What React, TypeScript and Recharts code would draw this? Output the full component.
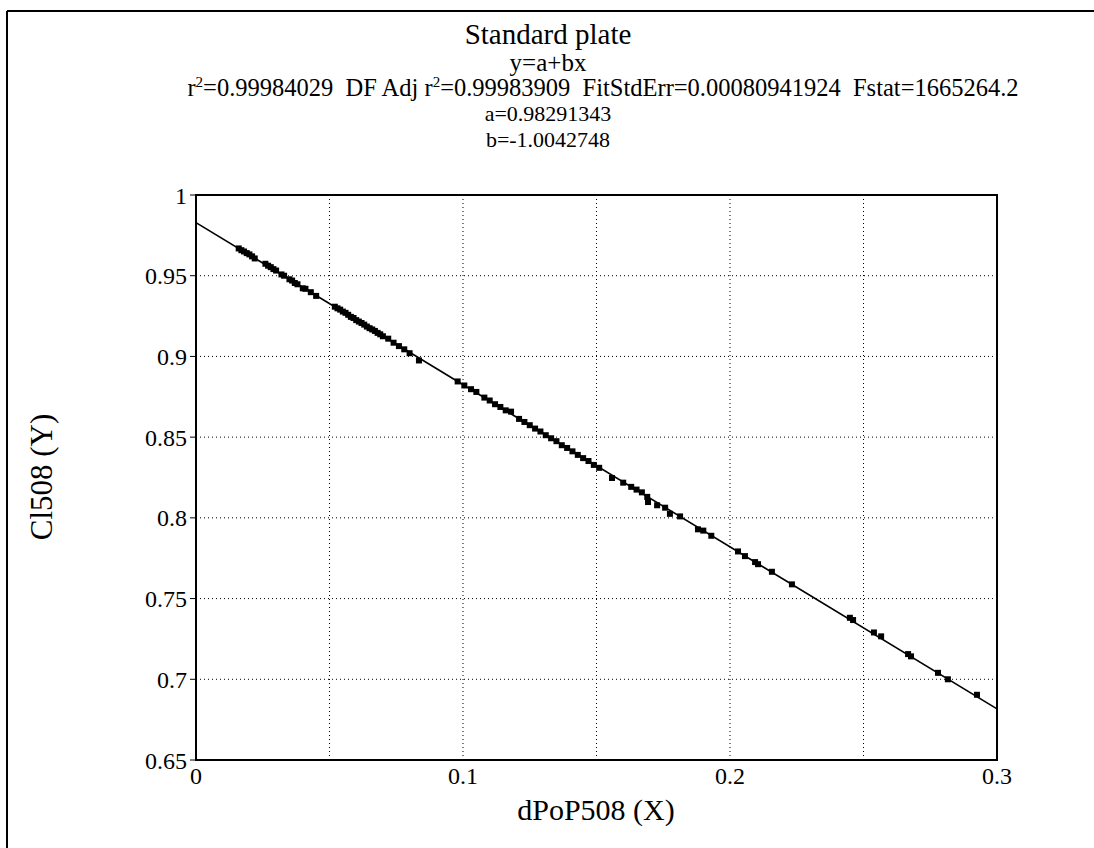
import React from "react";
import {
  ScatterChart,
  Scatter,
  XAxis,
  YAxis,
  CartesianGrid,
  ReferenceArea,
} from "recharts";

// fit parameters shown in the header
const fitA = 0.98291343;
const fitB = -1.0042748;

const xTicks = [0, 0.05, 0.1, 0.15, 0.2, 0.25, 0.3];
const xTickLabels = ["0", "", "0.1", "", "0.2", "", "0.3"];
const yTicks = [0.65, 0.7, 0.75, 0.8, 0.85, 0.9, 0.95, 1];

// dPoP508 (X)
const xValues = [
  0.016, 0.017, 0.018, 0.019, 0.02, 0.021, 0.022, 0.026, 0.027, 0.028, 0.029,
  0.03, 0.032, 0.033, 0.035, 0.036, 0.037, 0.038, 0.04, 0.041, 0.043, 0.045,
  0.052, 0.053, 0.054, 0.055, 0.056, 0.057, 0.058, 0.059, 0.06, 0.061, 0.062,
  0.063, 0.064, 0.065, 0.066, 0.067, 0.068, 0.069, 0.07, 0.072, 0.074, 0.076,
  0.078, 0.08, 0.0835, 0.098, 0.1005, 0.103, 0.105, 0.108, 0.11, 0.112, 0.114,
  0.116, 0.118, 0.121, 0.123, 0.125, 0.127, 0.129, 0.131, 0.133, 0.135, 0.137,
  0.139, 0.141, 0.143, 0.145, 0.147, 0.149, 0.151, 0.1558, 0.16, 0.163, 0.165,
  0.167, 0.169, 0.1693, 0.1727, 0.1757, 0.1775, 0.1813, 0.188, 0.19, 0.193,
  0.203, 0.2056, 0.2094, 0.2105, 0.2157, 0.2232, 0.2449, 0.2461, 0.2539,
  0.2566, 0.2667, 0.2678, 0.2779, 0.2816, 0.2925,
];

// Cl508 (Y)
const yValues = [
  0.9669, 0.9658, 0.965, 0.964, 0.9632, 0.962, 0.9607, 0.9574, 0.9562, 0.9553,
  0.9541, 0.9532, 0.9508, 0.95, 0.9478, 0.947, 0.9455, 0.9447, 0.9422, 0.9419,
  0.9398, 0.9375, 0.9308, 0.9298, 0.929, 0.9278, 0.927, 0.9258, 0.9245,
  0.9238, 0.9225, 0.9216, 0.9207, 0.9197, 0.9185, 0.9175, 0.9167, 0.9158,
  0.9146, 0.9137, 0.9125, 0.911, 0.9085, 0.9064, 0.9044, 0.902, 0.8975,
  0.8845, 0.882, 0.8797, 0.878, 0.8745, 0.8727, 0.8704, 0.8687, 0.8666,
  0.8658, 0.8613, 0.8594, 0.8574, 0.8553, 0.8535, 0.8512, 0.8493, 0.8475,
  0.845, 0.8433, 0.8412, 0.839, 0.837, 0.8352, 0.8328, 0.831, 0.8247, 0.8218,
  0.8192, 0.8175, 0.8158, 0.813, 0.8098, 0.8078, 0.8063, 0.8025, 0.8009,
  0.7929, 0.7921, 0.7889, 0.7792, 0.7763, 0.7726, 0.7713, 0.7666, 0.7588,
  0.7381, 0.7367, 0.729, 0.7266, 0.7156, 0.7142, 0.704, 0.7, 0.6904,
];

const points = xValues.map((x, i) => ({ x, y: yValues[i] }));
const fitLine = [
  { x: 0, y: fitA },
  { x: 0.3, y: fitA + fitB * 0.3 },
];

const FONT = "'Liberation Serif', 'Times New Roman', serif";

const SquareDot = (props: any) => {
  const { cx, cy } = props;
  if (cx == null || cy == null) return <g />;
  return <rect x={cx - 3} y={cy - 3} width={6} height={6} fill="#000" />;
};

const NoDot = () => <g />;

export default function App() {
  return (
    <div style={{ position: "absolute", left: 0, top: 0, width: 1094, height: 848, background: "#fff", overflow: "hidden" }}>
      <style>{"html,body{margin:0;padding:0;overflow:hidden;background:#fff}"}</style>
      <ScatterChart
        width={1094}
        height={848}
        margin={{ top: 195, right: 97, bottom: 8, left: 46 }}
      >
        <CartesianGrid stroke="#000" strokeDasharray="1 3" />
        <XAxis
          type="number"
          dataKey="x"
          domain={[0, 0.3]}
          ticks={xTicks}
          interval={0}
          allowDataOverflow
          height={80}
          tickLine={false}
          tickSize={4}
          tickMargin={3}
          tickFormatter={(_v: number, i: number) => xTickLabels[i]}
          tick={{ fontSize: 24, fill: "#000", fontFamily: FONT }}
          axisLine={{ stroke: "#000", strokeWidth: 2 }}
        />
        <YAxis
          type="number"
          dataKey="y"
          domain={[0.65, 1]}
          ticks={yTicks}
          interval={0}
          allowDataOverflow
          width={150}
          tickSize={6}
          tickMargin={3}
          tick={{ fontSize: 24, fill: "#000", fontFamily: FONT }}
          tickLine={{ stroke: "#000" }}
          axisLine={{ stroke: "#000", strokeWidth: 2 }}
        />
        <ReferenceArea
          x1={0}
          x2={0.3}
          y1={0.65}
          y2={1}
          fill="#fff"
          fillOpacity={0}
          stroke="#000"
          strokeWidth={2}
          strokeOpacity={1}
        />
        <Scatter
          data={fitLine}
          line={{ stroke: "#000", strokeWidth: 1.6 }}
          shape={NoDot}
          legendType="none"
          isAnimationActive={false}
        />
        <Scatter
          data={points}
          shape={SquareDot}
          legendType="none"
          isAnimationActive={false}
        />
      </ScatterChart>
      <svg
        width={1094}
        height={848}
        style={{ position: "absolute", left: 0, top: 0, pointerEvents: "none" }}
        fontFamily={FONT}
        fill="#000"
      >
        <line x1={7} y1={11} x2={1094} y2={11} stroke="#000" strokeWidth={2} />
        <line x1={7} y1={11} x2={7} y2={848} stroke="#000" strokeWidth={2} />
        <text x={548} y={44} textAnchor="middle" fontSize={29}>
          Standard plate
        </text>
        <text x={548} y={71} textAnchor="middle" fontSize={25}>
          y=a+bx
        </text>
        <text x={603} y={96} textAnchor="middle" fontSize={24.5} xmlSpace="preserve" style={{ whiteSpace: "pre" }}>
          r<tspan fontSize={15} dy={-9}>2</tspan>
          <tspan dy={9}>{"=0.99984029  DF Adj r"}</tspan>
          <tspan fontSize={15} dy={-9}>2</tspan>
          <tspan dy={9}>{"=0.99983909  FitStdErr=0.00080941924  Fstat=1665264.2"}</tspan>
        </text>
        <text x={548} y={121} textAnchor="middle" fontSize={22}>
          a=0.98291343
        </text>
        <text x={548} y={147} textAnchor="middle" fontSize={22}>
          b=-1.0042748
        </text>
        <text x={596} y={820} textAnchor="middle" fontSize={30}>
          dPoP508 (X)
        </text>
        <text
          x={52}
          y={477}
          textAnchor="middle"
          fontSize={31}
          transform="rotate(-90 52 477)"
        >
          Cl508 (Y)
        </text>
      </svg>
    </div>
  );
}
